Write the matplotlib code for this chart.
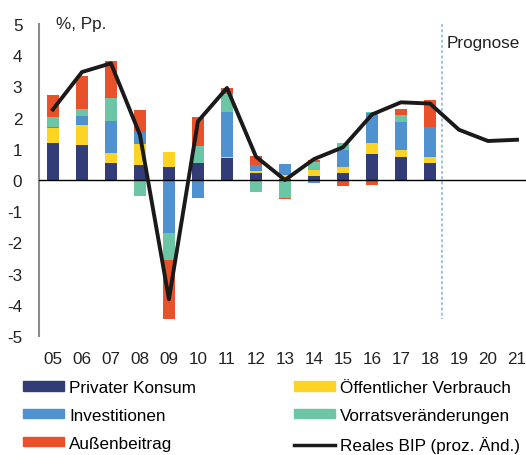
import numpy as np
import matplotlib
matplotlib.use("Agg")
import matplotlib.pyplot as plt
from matplotlib.patches import Patch
from matplotlib.lines import Line2D

plt.rcParams["font.family"] = ["Liberation Sans", "DejaVu Sans"]
plt.rcParams["axes.unicode_minus"] = False

# Jahre (Balken bis 2018, Linie bis 2021)
years = ["05", "06", "07", "08", "09", "10", "11", "12", "13",
         "14", "15", "16", "17", "18", "19", "20", "21"]

# Wachstumsbeiträge in Pp.
privat = [1.19, 1.12, 0.56, 0.48, 0.43, 0.53, 0.69, 0.24, 0.04, 0.14, 0.24, 0.84, 0.73, 0.56]
oeffentlich = [0.48, 0.64, 0.29, 0.68, 0.48, 0.0, 0.06, 0.05, 0.12, 0.18, 0.19, 0.34, 0.22, 0.19]
investitionen = [0.03, 0.28, 1.03, 0.38, -1.70, -0.59, 1.42, 0.20, 0.34, -0.11, 0.52, 0.97, 0.90, 0.95]
vorrat = [0.32, 0.25, 0.75, -0.52, -0.88, 0.55, 0.58, -0.38, -0.57, 0.25, 0.23, 0.03, 0.22, -0.03]
aussen = [0.72, 1.04, 1.20, 0.71, -1.86, 0.93, 0.21, 0.28, -0.05, 0.07, -0.19, -0.16, 0.19, 0.88]

# Reales BIP, proz. Änderung
bip = [2.26, 3.46, 3.74, 1.45, -3.82, 1.88, 2.95, 0.75, 0.0, 0.67, 1.05, 2.1, 2.49, 2.45, 1.61, 1.25, 1.29]

series = [
    ("Privater Konsum", privat, "#323c77"),
    ("Öffentlicher Verbrauch", oeffentlich, "#fed424"),
    ("Investitionen", investitionen, "#5092d0"),
    ("Vorratsveränderungen", vorrat, "#6cc6a6"),
    ("Außenbeitrag", aussen, "#e8512a"),
]

fs = 12.3

fig = plt.figure(figsize=(5.26, 4.56), dpi=100)
ax = fig.add_axes([39 / 526, 1 - 337 / 456, 487 / 526, 312 / 456])

n = len(privat)
x = np.arange(n)
pos_bottom = np.zeros(n)
neg_bottom = np.zeros(n)
for name, vals, col in series:
    v = np.array(vals)
    bottom = np.where(v >= 0, pos_bottom, neg_bottom)
    ax.bar(x, v, bottom=bottom, width=0.44, color=col, linewidth=0)
    pos_bottom += np.where(v >= 0, v, 0)
    neg_bottom += np.where(v < 0, v, 0)

ax.plot(np.arange(len(bip)), bip, color="#1a1a1a", lw=2.8, zorder=5)

ax.axhline(0, color="black", lw=1, zorder=4)
ax.plot([13.4, 13.4], [5, -4.45], color="#9dc3e6", lw=1.4, ls=(0, (1.5, 1.2)), zorder=3)
ax.text(13.58, 4.4, "Prognose", fontsize=fs, color="#222222", ha="left", va="center")
ax.text(0.12, 5.0, "%, Pp.", fontsize=fs, color="#222222", ha="left", va="center")

ax.set_xlim(-0.48, 16.31)
ax.set_ylim(-5, 5)
ax.set_yticks(range(-5, 6))
ax.set_xticks(range(len(years)))
ax.set_xticklabels(years)
ax.tick_params(axis="both", length=0, labelsize=fs, colors="#222222")
ax.tick_params(axis="y", pad=12)
ax.tick_params(axis="x", pad=11)
for s in ["top", "right", "bottom"]:
    ax.spines[s].set_visible(False)
ax.spines["left"].set_color("#8c8c8c")
ax.spines["left"].set_linewidth(1.5)

# Legende, zeilenweise angeordnet
handles = [
    Patch(color=series[0][2], label=series[0][0]),
    Patch(color=series[2][2], label=series[2][0]),
    Patch(color=series[4][2], label=series[4][0]),
    Patch(color=series[1][2], label=series[1][0]),
    Patch(color=series[3][2], label=series[3][0]),
    Line2D([], [], color="#1a1a1a", lw=2.5, label="Reales BIP (proz. Änd.)"),
]
fig.legend(handles=handles, ncol=2, loc="upper left",
           bbox_to_anchor=(23 / 526, 1 - 381 / 456), frameon=False,
           fontsize=fs, handlelength=2.4, handleheight=0.45, handletextpad=0.3,
           columnspacing=5.7, labelspacing=0.76, borderpad=0, borderaxespad=0)

fig.savefig("out.png", dpi=100)
